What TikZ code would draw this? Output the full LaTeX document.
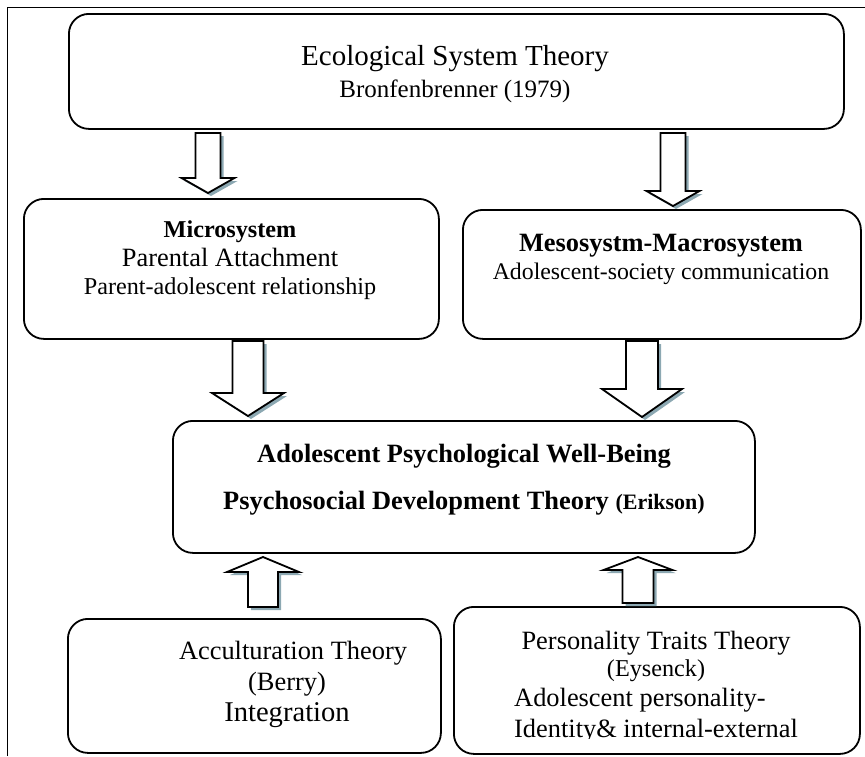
\documentclass[tikz,border=0pt]{standalone}
\usepackage{fontspec}
\setmainfont{Liberation Serif}
\usetikzlibrary{calc,shadows}

\definecolor{arrowshade}{RGB}{140,168,178}
\newcommand{\boxfont}[2]{\fontsize{#1}{#2}\selectfont}

\tikzset{
  box/.style={draw, line width=1.8pt, rounded corners=20pt, inner sep=0pt, anchor=north west},
  txt/.style={inner sep=0pt, anchor=north, align=center},
  blockarrow/.style={draw, line width=1.8pt, fill=white, line join=miter,
    drop shadow={shadow xshift=3pt, shadow yshift=-3pt, fill=arrowshade, opacity=1}}
}

% hollow arrow: start, tip, half stem, half head, head length
\newcommand{\blockarrow}[5]{%
  \path[blockarrow] let \p1=(#1), \p2=(#2), \p3=($(#2)!#5!(#1)$) in
    ({\x1-#3},\y1) -- ({\x1-#3},\y3) -- ({\x1-#4},\y3) -- (\x2,\y2)
    -- ({\x1+#4},\y3) -- ({\x1+#3},\y3) -- ({\x1+#3},\y1) -- cycle;}

\begin{document}
\begin{tikzpicture}[x=1pt,y=-1pt]
  \useasboundingbox (0,0) rectangle (865,756);
  \draw[line width=0.8pt] (7,756) -- (7,7) -- (865,7);

  % boxes
  \node[box, minimum width=775pt, minimum height=115pt] (top) at (68,13) {};
  \node[box, minimum width=415pt, minimum height=140pt] (micro) at (23,198) {};
  \node[box, minimum width=398pt, minimum height=129pt] (meso) at (462,209) {};
  \node[box, minimum width=582pt, minimum height=132pt] (wellbeing) at (172,420) {};
  \node[box, minimum width=373pt, minimum height=134pt] (accult) at (67,618) {};
  \node[box, minimum width=406pt, minimum height=147pt] (traits) at (453,606) {};

  % texts
  \node[txt, font=\boxfont{29}{32}] (topT) at (455,45) {Ecological System Theory\\
    \boxfont{25}{32}Bronfenbrenner (1979)};
  \node[txt, font=\boxfont{24.2}{28.5}] (microT) at (230,221) {\textbf{Microsystem}\\
    \boxfont{26.4}{28.5}Parental Attachment\\
    Parent-adolescent relationship};
  \node[txt, font=\boxfont{26.4}{28}] (mesoT) at (661,234) {\textbf{Mesosystm-Macrosystem}\\
    \boxfont{23.8}{28}Adolescent-society communication};
  \node[txt, font=\boxfont{26.4}{47}\bfseries] (wellbeingT) at (464,444) {Adolescent Psychological Well-Being\\
    Psychosocial Development Theory {\boxfont{22}{47}(Erikson)}};
  \node[txt, font=\boxfont{26.4}{31}] (accultT) at (287,641) {\hspace*{12pt}Acculturation Theory\\
    (Berry)\\
    \boxfont{28.6}{31}Integration};
  \begin{scope}
    \clip (455,600) rectangle (857,738);
    \node[txt, font=\boxfont{26.4}{27}] (traitsT) at (656,631) {Personality Traits Theory\\
      \boxfont{24.2}{27}(Eysenck)};
    \node[txt, anchor=north west, align=left, font=\boxfont{26.4}{31}] (traitsU) at (514,688) {Adolescent personality-\\
      Identity\& internal-external};
  \end{scope}

  % arrows
  \coordinate (a1s) at (208,133); \coordinate (a1e) at (208,193);
  \coordinate (a2s) at (673,133); \coordinate (a2e) at (673,206);
  \coordinate (a3s) at (248,341); \coordinate (a3e) at (248,416);
  \coordinate (a4s) at (642,341); \coordinate (a4e) at (642,417);
  \coordinate (a5s) at (263,607); \coordinate (a5e) at (263,557);
  \coordinate (a6s) at (638,603); \coordinate (a6e) at (638,557);
  \blockarrow{a1s}{a1e}{12.5pt}{26.5pt}{15pt}
  \blockarrow{a2s}{a2e}{12.5pt}{26.5pt}{15pt}
  \blockarrow{a3s}{a3e}{15.5pt}{36pt}{23pt}
  \blockarrow{a4s}{a4e}{16pt}{40pt}{28pt}
  \blockarrow{a5s}{a5e}{15pt}{36pt}{15pt}
  \blockarrow{a6s}{a6e}{15.5pt}{34.5pt}{13pt}
\end{tikzpicture}
\end{document}
